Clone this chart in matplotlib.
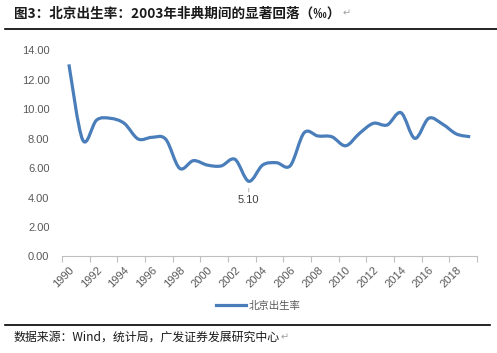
import numpy as np
import matplotlib.pyplot as plt
from matplotlib.path import Path
from matplotlib.patches import PathPatch
from matplotlib.lines import Line2D

plt.rcParams['font.family'] = ['Noto Sans CJK SC', 'DejaVu Sans']

# Data
years = list(range(1990, 2020))
birth_rate = [13.03, 7.90, 9.25, 9.37, 9.03, 7.97, 8.08, 7.95, 5.98, 6.50,
              6.20, 6.14, 6.59, 5.10, 6.20, 6.36, 6.16, 8.39, 8.17, 8.12,
              7.51, 8.35, 9.03, 8.92, 9.75, 8.01, 9.37, 8.98, 8.31, 8.12]
tick_years = years[::2]
series_name = '北京出生率'
title = '图3：北京出生率：2003年非典期间的显著回落（‰）'
source = '数据来源：Wind，统计局，广发证券发展研究中心'

LINE_COLOR = '#4A7EBB'
GRAY = '#595959'
TICK_FONT = ['Liberation Sans', 'Noto Sans CJK SC']


def smooth_path(x, y):
    # Excel-style smoothed line: cubic Bezier segments through every point
    pts = np.column_stack([x, y]).astype(float)
    n = len(pts)
    verts = [pts[0]]
    codes = [Path.MOVETO]
    for i in range(n - 1):
        p0 = pts[i - 1] if i > 0 else pts[i]
        p1, p2 = pts[i], pts[i + 1]
        p3 = pts[i + 2] if i + 2 < n else pts[i + 1]
        verts += [p1 + (p2 - p0) / 6, p2 - (p3 - p1) / 6, p2]
        codes += [Path.CURVE4] * 3
    return Path(verts, codes)


fig = plt.figure(figsize=(4.97, 3.53), dpi=100)
ax = fig.add_axes([0.1247, 0.2734, 0.8353, 0.5848])

x = np.arange(len(years))
ax.add_patch(PathPatch(smooth_path(x, birth_rate), facecolor='none',
                       edgecolor=LINE_COLOR, lw=2.3, capstyle='butt'))

ax.set_xlim(-0.5, len(years) - 0.5)
ax.set_ylim(0, 14)
ax.set_yticks(np.arange(0, 15, 2))
ax.set_yticklabels([f'{v:.2f}' for v in np.arange(0, 15, 2)],
                   family=TICK_FONT)

ax.set_xticks(np.arange(-0.5, len(years), 2))
ax.set_xticklabels([])
ax.set_xticks([years.index(t) for t in tick_years], minor=True)
ax.set_xticklabels([str(t) for t in tick_years], minor=True, rotation=45,
                   ha='right', va='top', rotation_mode='anchor',
                   family=TICK_FONT)
ax.tick_params(axis='x', which='major', length=4, color='#BFBFBF', width=0.8)
ax.tick_params(axis='x', which='minor', length=0, pad=6, labelsize=8,
               labelcolor=GRAY)
ax.tick_params(axis='y', length=0, labelsize=8, labelcolor=GRAY, pad=9)

for s in ['top', 'right', 'left']:
    ax.spines[s].set_visible(False)
ax.spines['bottom'].set_color('#BFBFBF')
ax.spines['bottom'].set_linewidth(0.8)

# 2003 low annotation
i03 = years.index(2003)
ax.annotate(f'{birth_rate[i03]:.2f}', xy=(i03, birth_rate[i03]),
            xytext=(i03, birth_rate[i03] - 1.25), ha='center', va='center',
            fontsize=8, color='#404040', family=TICK_FONT,
            arrowprops=dict(arrowstyle='-', color='#A6A6A6', lw=0.6,
                            shrinkA=0, shrinkB=5))

# legend
handle = Line2D([], [], color=LINE_COLOR, lw=2.3)
fig.legend([handle], [series_name], loc='center', bbox_to_anchor=(0.52, 0.133),
           frameon=False, fontsize=7.5, handlelength=2.8, handletextpad=0.3,
           labelcolor=GRAY)

# title, rules and source
fig.text(0.028, 0.962, title, fontsize=9.8, fontweight='bold', color='#1a1a1a',
         ha='left', va='center')
fig.text(0.69, 0.962, '↵', fontsize=7, color='#A0A0A0', ha='left', va='center',
         family=['DejaVu Sans'])
fig.add_artist(Line2D([0.01, 1.0], [0.918, 0.918], color='black', lw=1.2))
fig.add_artist(Line2D([0.01, 0.985], [0.079, 0.079], color='black', lw=1.2))
fig.text(0.028, 0.045, source, fontsize=8.6, color='#1a1a1a', ha='left',
         va='center')
fig.text(0.565, 0.045, '↵', fontsize=7, color='#A0A0A0', ha='left',
         va='center', family=['DejaVu Sans'])

plt.savefig('out.png', dpi=100)
